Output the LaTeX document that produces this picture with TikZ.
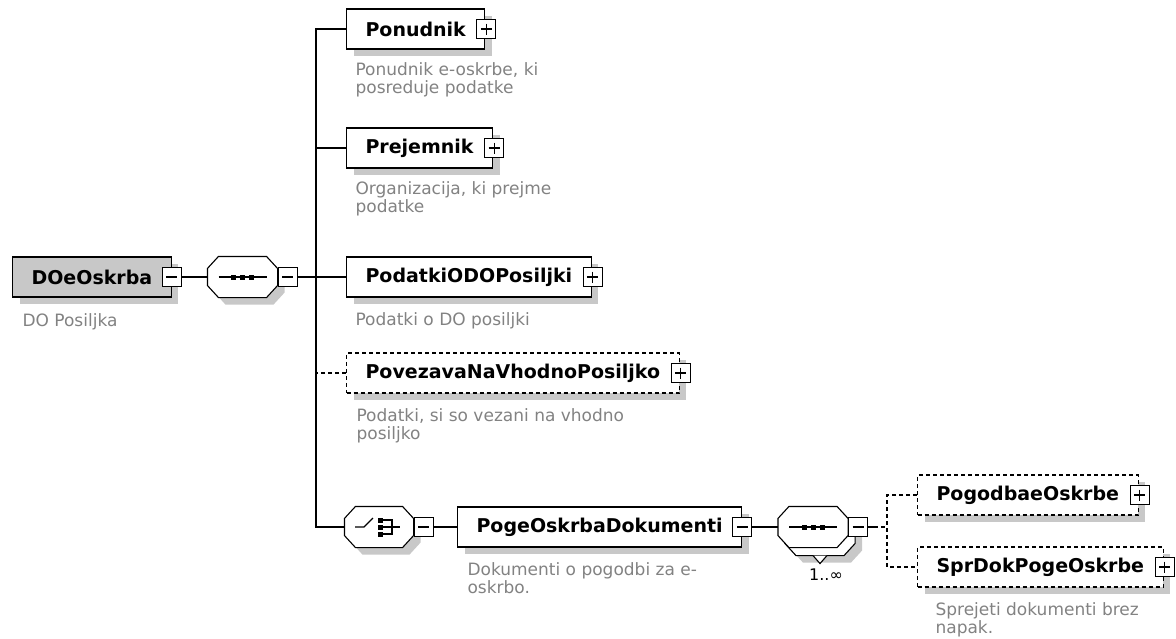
\documentclass[tikz,border=0pt]{standalone}
\usepackage{fontspec}
\setmainfont{DejaVu Sans}
\usetikzlibrary{positioning,shadows}

\definecolor{shadowgray}{RGB}{200,200,200}
\definecolor{rootgray}{RGB}{200,200,200}
\definecolor{notegray}{RGB}{130,130,130}

\tikzset{
  shadowed/.style={drop shadow={shadow xshift=7pt, shadow yshift=-7pt, fill=shadowgray, opacity=1}},
  elem/.style={draw, fill=white, shadowed, minimum height=40, inner xsep=19, font=\fontsize{19}{22}\selectfont\bfseries},
  optline/.style={dash pattern=on 4pt off 3pt},
  optelem/.style={elem, optline},
  note/.style={anchor=north west, inner sep=0, align=left, text=notegray, font=\fontsize{17}{18}\selectfont},
  compo/.style={minimum width=69, minimum height=40, inner sep=0},
  btn/.style={draw, fill=white, minimum size=19, inner sep=0},
  minusbtn/.style={btn, path picture={
      \draw ([xshift=4pt]path picture bounding box.west) -- ([xshift=-4pt]path picture bounding box.east);}},
  plusbtn/.style={btn, path picture={
      \draw ([xshift=4pt]path picture bounding box.west) -- ([xshift=-4pt]path picture bounding box.east)
            ([yshift=-4pt]path picture bounding box.north) -- ([yshift=4pt]path picture bounding box.south);}},
}

% octagon outline round a compositor node
\newcommand{\octpath}[1]{([xshift=11pt]#1.north west) -- ([xshift=-11pt]#1.north east)
  -- ([yshift=-12pt]#1.north east) -- ([yshift=12pt]#1.south east)
  -- ([xshift=-11pt]#1.south east) -- ([xshift=11pt]#1.south west)
  -- ([yshift=12pt]#1.south west) -- ([yshift=-12pt]#1.north west) -- cycle}

\begin{document}
\begin{tikzpicture}[x=1pt, y=-1pt, line width=1.1pt]
\useasboundingbox (0,0) rectangle (1176,638);

% root element
\node[elem, fill=rootgray, anchor=west] (root) at (12,277) {DOeOskrba};
\node[minusbtn] (rootbtn) at (root.east) {};
\node[note] (rootnote) at ([shift={(10,15)}]root.south west) {DO Posiljka};

% sequence
\node[compo] (seq) at (242.5,277) {};
\draw[fill=white, shadowed] \octpath{seq};
\draw (seq.center) ++(-24,0) -- ++(48,0);
\foreach \dx in {-9,0,9}
  \fill ([xshift=\dx]seq.center) +(-2.5,-2.5) rectangle +(2.5,2.5);
\node[minusbtn, anchor=west] (seqbtn) at (seq.east) {};

\coordinate (ttop) at (316,29);
\coordinate (tbot) at (316,527);

% children
\node[elem, anchor=west] (pon) at (346,29) {Ponudnik};
\node[plusbtn] (ponbtn) at ([xshift=1]pon.east) {};
\node[note] (ponnote) at ([shift={(9,12)}]pon.south west) {Ponudnik e-oskrbe, ki\\posreduje podatke};

\node[elem, anchor=west] (prej) at (346,148) {Prejemnik};
\node[plusbtn] (prejbtn) at ([xshift=1]prej.east) {};
\node[note] (prejnote) at ([shift={(9,12)}]prej.south west) {Organizacija, ki prejme\\podatke};

\node[elem, anchor=west] (pod) at (346,277) {PodatkiODOPosiljki};
\node[plusbtn] (podbtn) at ([xshift=1]pod.east) {};
\node[note] (podnote) at ([shift={(9,14)}]pod.south west) {Podatki o DO posiljki};

\node[optelem, anchor=west] (pov) at (346,373) {PovezavaNaVhodnoPosiljko};
\node[plusbtn] (povbtn) at ([xshift=1]pov.east) {};
\node[note] (povnote) at ([shift={(10,14)}]pov.south west) {Podatki, si so vezani na vhodno\\posiljko};

% choice
\node[compo, minimum width=68] (choice) at (379,527) {};
\draw[fill=white, shadowed] \octpath{choice};
\draw (choice.center) ++(-24,0) -- ++(9,0) -- ++(9,-9);
\foreach \dy in {-7,0,7}
  \fill ([shift={(1,\dy)}]choice.center) +(-2.5,-2.5) rectangle +(2.5,2.5);
\draw ([shift={(4,-7)}]choice.center) -- ++(9,0) -- ++(0,14) -- ++(-9,0)
      ([shift={(4,0)}]choice.center) -- ++(17,0);
\node[minusbtn, anchor=west] (choicebtn) at (choice.east) {};

\node[elem, anchor=west] (poge) at (457,527) {PogeOskrbaDokumenti};
\node[minusbtn] (pogebtn) at (poge.east) {};
\node[note] (pogenote) at ([shift={(10,14)}]poge.south west) {Dokumenti o pogodbi za e-\\oskrbo.};

% repeated sequence
\node[compo] (seqtwoback) at (820,535) {};
\draw[fill=white, shadowed] \octpath{seqtwoback};
\draw[fill=white] ([xshift=-7]seqtwoback.south) -- ++(7,8) -- ++(7,-8);
\node[compo] (seqtwo) at (813,527) {};
\draw[fill=white] \octpath{seqtwo};
\draw (seqtwo.center) ++(-24,0) -- ++(48,0);
\foreach \dx in {-9,0,9}
  \fill ([xshift=\dx]seqtwo.center) +(-2.5,-2.5) rectangle +(2.5,2.5);
\node[minusbtn, anchor=west] (seqtwobtn) at (seqtwo.east) {};
\node[font=\fontsize{16}{16}\selectfont] (seqtwomult) at (826,575) {1..∞};

\node[optelem, anchor=west] (pog) at (917,495) {PogodbaeOskrbe};
\node[plusbtn] (pogbtn) at ([xshift=1]pog.east) {};

\node[optelem, anchor=west] (spr) at (917,567) {SprDokPogeOskrbe};
\node[plusbtn] (sprbtn) at ([xshift=1]spr.east) {};
\node[note] (sprnote) at ([shift={(18,14)}]spr.south west) {Sprejeti dokumenti brez\\napak.};

\coordinate (rjoin) at (887,527);

% connectors
\draw (rootbtn.east) -- (seq.west);
\draw (seqbtn.east) -- (seqbtn.east -| ttop);
\draw (pon.west) -- (ttop) -- (tbot) -- (choice.west);
\draw (prej.west) -- (prej.west -| ttop);
\draw (pod.west) -- (pod.west -| ttop);
\draw[optline] (pov.west) -- (pov.west -| ttop);
\draw (choicebtn.east) -- (poge.west);
\draw (pogebtn.east) -- (seqtwo.west);
\draw (seqtwobtn.east) -- ++(6,0) coordinate (rstub);
\draw[optline] (rstub) -- (rjoin);
\draw[optline] (pog.west) -| (rjoin) |- (spr.west);
\end{tikzpicture}
\end{document}
